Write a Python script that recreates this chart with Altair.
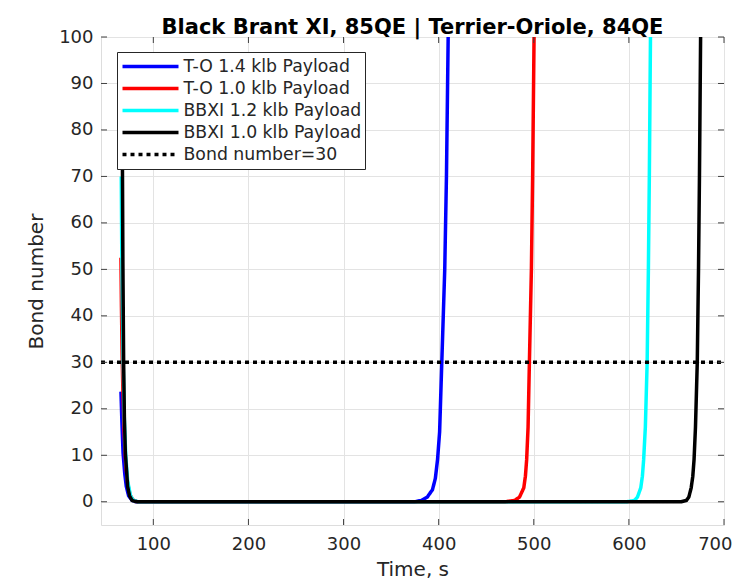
import altair as alt
import pandas as pd

# ---- data ----
series_names = ["T-O 1.4 klb Payload", "T-O 1.0 klb Payload",
                "BBXI 1.2 klb Payload", "BBXI 1.0 klb Payload",
                "Bond number=30"]
series_colors = ["#0000ff", "#ff0000", "#00ffff", "#000000", "#000000"]

t_to14 = [66.0, 67.0, 68.2, 70.0, 71.6, 74.0, 77.6, 82.0, 375.0, 382.0, 388.0,
          393.5, 396.5, 398.8, 401.0, 403.3, 406.4, 408.2, 410.0, 410.6]
y_to14 = [23.7, 17.0, 10.5, 6.0, 3.3, 1.3, 0.3, 0.0, 0.0, 0.3, 1.0,
          2.6, 5.0, 9.0, 15.0, 30.0, 50.0, 70.0, 100.0, 108.0]

t_to10 = [66.0, 66.5, 67.2, 68.0, 69.5, 71.0, 73.0, 75.5, 78.5, 83.0, 470.0,
          480.0, 485.0, 489.5, 491.2, 492.5, 494.0, 495.4, 497.5, 498.8, 500.3, 501.0]
y_to10 = [52.5, 42.0, 32.0, 24.0, 14.0, 8.0, 4.0, 1.5, 0.4, 0.0, 0.0,
          0.3, 1.0, 3.0, 5.5, 9.0, 16.0, 30.0, 50.0, 70.0, 100.0, 108.0]

t_bb12 = [66.3, 66.8, 67.5, 68.3, 69.5, 71.0, 73.0, 76.0, 79.0, 84.0, 598.0,
          606.0, 609.0, 612.5, 614.2, 615.5, 617.3, 619.2, 620.5, 621.5, 622.7, 623.2]
y_bb12 = [70.0, 55.0, 42.0, 30.0, 18.0, 10.0, 4.5, 1.3, 0.3, 0.0, 0.0,
          0.3, 1.0, 3.0, 5.5, 9.0, 16.0, 30.0, 50.0, 70.0, 100.0, 108.0]

t_bb10 = [67.2, 67.6, 68.0, 68.8, 69.6, 70.6, 73.0, 75.0, 77.6, 81.0, 85.0, 655.0,
          660.5, 663.0, 665.5, 667.2, 668.5, 670.0, 671.9, 673.2, 674.2, 675.4, 675.8]
y_bb10 = [85.0, 70.0, 52.0, 30.0, 18.0, 10.5, 3.3, 1.3, 0.3, 0.05, 0.0, 0.0,
          0.3, 1.0, 3.0, 5.5, 9.0, 16.0, 30.0, 50.0, 70.0, 100.0, 108.0]

t_bond = [45.0, 700.0]
y_bond = [30.0, 30.0]

x_ticks = [100, 200, 300, 400, 500, 600, 700]
y_ticks = [0, 10, 20, 30, 40, 50, 60, 70, 80, 90, 100]

W, H = 623, 488
FONT = "DejaVu Sans"
AX = "#262626"

def frame(t, y, name):
    return pd.DataFrame({"t": t, "y": y, "series": name})

dfs = [frame(t_to14, y_to14, series_names[0]),
       frame(t_to10, y_to10, series_names[1]),
       frame(t_bb12, y_bb12, series_names[2]),
       frame(t_bb10, y_bb10, series_names[3]),
       frame(t_bond, y_bond, series_names[4])]

xscale = alt.Scale(domain=[45, 700], nice=False, zero=False)
yscale = alt.Scale(domain=[-5, 100], nice=False, zero=False)

color_scale = alt.Scale(domain=series_names, range=series_colors)
dash_scale = alt.Scale(domain=series_names,
                       range=[[1, 0], [1, 0], [1, 0], [1, 0], [4, 4]])

xaxis = alt.Axis(values=x_ticks, title="Time, s", grid=True, gridColor="#e3e3e3",
                 domain=False, ticks=False, labelFontSize=18, labelFont=FONT,
                 labelColor=AX, labelPadding=10, labelFlush=True, labelFlushOffset=8,
                 labelOverlap=False,
                 titleFontSize=20, titleFont=FONT,
                 titleFontWeight="normal", titleColor=AX, titlePadding=6)
yaxis = alt.Axis(values=y_ticks, title="Bond number", grid=True, gridColor="#e3e3e3",
                 domain=False, ticks=False, labelFontSize=18, labelFont=FONT,
                 labelColor=AX, labelPadding=8, labelFlush=False, labelOverlap=False,
                 titleFontSize=20, titleFont=FONT,
                 titleFontWeight="normal", titleColor=AX, titlePadding=12)

legend = alt.Legend(title=None, orient="none", legendX=16, legendY=15,
                    symbolType="stroke", symbolSize=3136, symbolStrokeWidth=3.5,
                    labelFontSize=17.3, labelFont=FONT, labelColor=AX,
                    fillColor="white", strokeColor=AX, padding=3.5,
                    rowPadding=0, clipHeight=22, labelOffset=3, cornerRadius=0,
                    symbolOffset=0, labelLimit=300)

layers = []
for i, d in enumerate(dfs):
    layers.append(
        alt.Chart(d).mark_line(strokeWidth=3.5, clip=True, strokeCap="butt").encode(
            x=alt.X("t:Q", scale=xscale, axis=xaxis),
            y=alt.Y("y:Q", scale=yscale, axis=yaxis),
            color=alt.Color("series:N", scale=color_scale, legend=legend, sort=series_names),
            strokeDash=alt.StrokeDash("series:N", scale=dash_scale, legend=legend, sort=series_names),
            order=alt.value(i),
        )
    )

# inward ticks on all four sides (MATLAB box style)
xt = pd.DataFrame({"v": x_ticks})
yt = pd.DataFrame({"v": y_ticks})
tick_style = dict(color="#404040", strokeWidth=1)
ticks = [
    alt.Chart(xt).mark_rule(**tick_style).encode(x=alt.X("v:Q", scale=xscale, axis=xaxis),
                                                 y=alt.value(H), y2=alt.value(H - 6)),
    alt.Chart(xt).mark_rule(**tick_style).encode(x=alt.X("v:Q", scale=xscale, axis=xaxis),
                                                 y=alt.value(0), y2=alt.value(6)),
    alt.Chart(yt).mark_rule(**tick_style).encode(y=alt.Y("v:Q", scale=yscale, axis=yaxis),
                                                 x=alt.value(0), x2=alt.value(6)),
    alt.Chart(yt).mark_rule(**tick_style).encode(y=alt.Y("v:Q", scale=yscale, axis=yaxis),
                                                 x=alt.value(W - 6), x2=alt.value(W)),
]

chart = alt.layer(*layers, *ticks).properties(
    width=W, height=H,
    title=alt.TitleParams("Black Brant XI, 85QE | Terrier-Oriole, 84QE",
                          fontSize=21, fontWeight="bold", font=FONT,
                          color="black", anchor="middle", offset=6, dy=16),
    autosize=alt.AutoSizeParams(type="none"),
    padding={"left": 93, "top": 29, "right": 8, "bottom": 54},
).configure_view(stroke="#5a5a5a", strokeWidth=1).configure(background="white")

chart.save("out.html", embed_options={"renderer": "svg", "actions": False})
